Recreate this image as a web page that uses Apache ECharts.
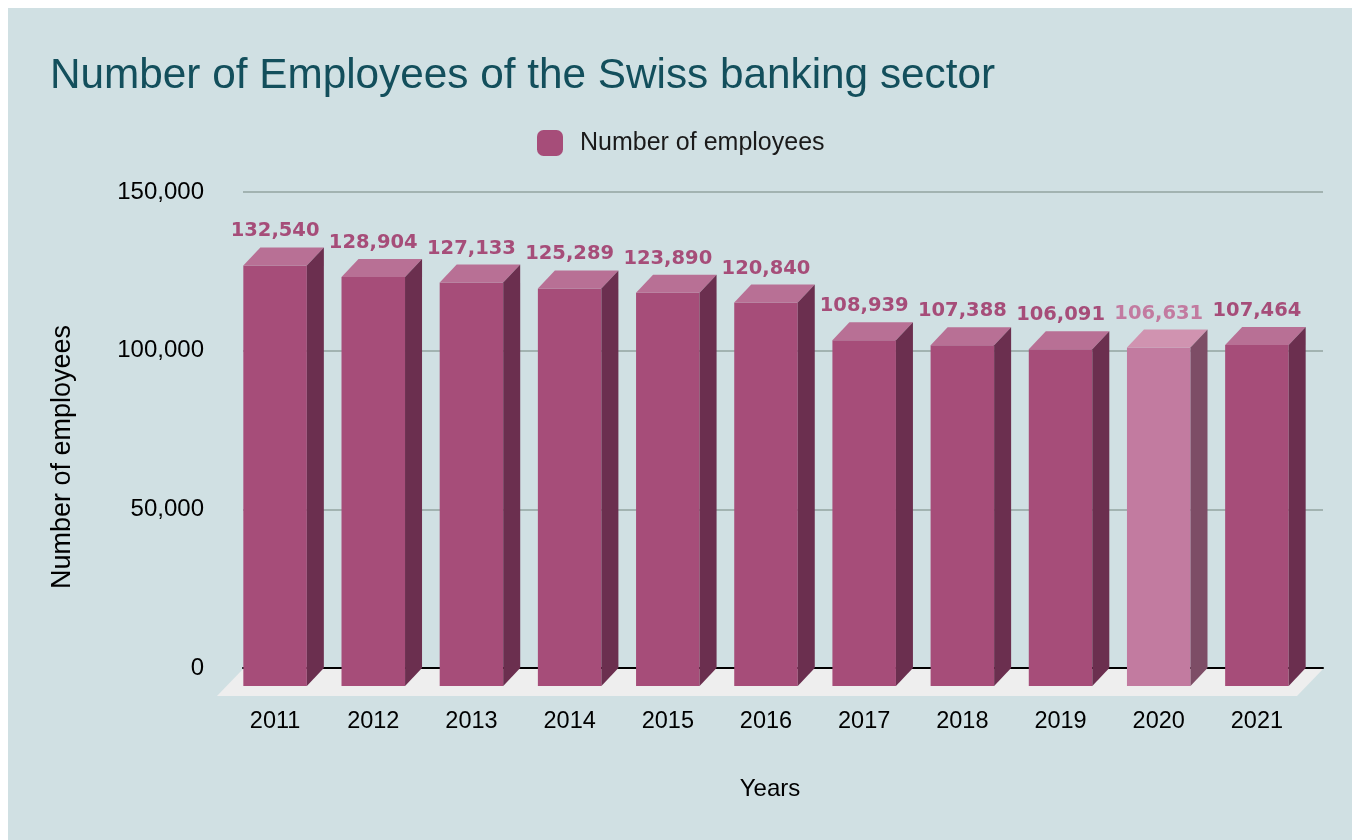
<!DOCTYPE html>
<html>
<head>
<meta charset="utf-8">
<script src="https://cdn.jsdelivr.net/npm/echarts@6/dist/echarts.min.js"></script>
<style>
html,body{margin:0;padding:0;background:#fff;}
#c{width:1352px;height:840px;background:#d0e0e3;box-shadow:inset 8px 8px 0 0 #fff;}
</style>
</head>
<body>
<div id="c"></div>
<script>
const years = ['2011','2012','2013','2014','2015','2016','2017','2018','2019','2020','2021'];
const employees = [132540,128904,127133,125289,123890,120840,108939,107388,106091,106631,107464];
const yMin = 0, yMax = 150000, yStep = 50000;
const highlightYears = ['2020'];
const seriesName = 'Number of employees';

const normalColors = {front:'#a64d79', top:'#b87095', side:'#6b2f4f', label:'#a64d79'};
const hlColors = {front:'#c27ba0', top:'#d093b0', side:'#7d4d66', label:'#c27ba0'};
const DX = -17, DY = 18;

const fmt = v => v.toLocaleString('en-US');

function renderBar(params, api) {
  const i = api.value(0), v = api.value(1);
  const top = api.coord([i, v]);
  const base = api.coord([i, 0]);
  const bw = api.size([1, 0])[0] * 0.647;
  const xl = top[0] - bw / 2 + DX, xr = top[0] + bw / 2 + DX;
  const yt = top[1] + DY, yb = base[1] + DY;
  const c = highlightYears.includes(years[i]) ? hlColors : normalColors;
  return {
    type: 'group',
    children: [
      {type:'rect', shape:{x:xl, y:yt, width:bw, height:yb - yt}, style:{fill:c.front}},
      {type:'polygon', shape:{points:[[xl,yt],[xr,yt],[xr-DX,yt-DY],[xl-DX,yt-DY]]}, style:{fill:c.top}},
      {type:'polygon', shape:{points:[[xr,yt],[xr-DX,yt-DY],[xr-DX,yb-DY],[xr,yb]]}, style:{fill:c.side}},
      {type:'text', x:(xl + xr) / 2, y: top[1] - 6,
       style:{text: fmt(v), fill: c.label, font: 'bold 19.5px "DejaVu Sans"', align:'center', verticalAlign:'bottom'}}
    ]
  };
}

function renderFloor(params, api) {
  const cs = params.coordSys;
  const y0 = api.coord([0, 0])[1] + 1;
  const x0 = cs.x, x1 = cs.x + cs.width;
  const fx = -26, fy = 27;
  return {
    type: 'polygon',
    shape: {points: [[x0, y0], [x1, y0], [x1 + fx, y0 + fy], [x0 + fx, y0 + fy]]},
    style: {fill: '#eeeeee'}
  };
}

const chart = echarts.init(document.getElementById('c'));
chart.setOption({
  animation: false,
  textStyle: {fontFamily: '"Liberation Sans", Arial, sans-serif'},
  title: {
    text: 'Number of Employees of the Swiss banking sector',
    left: 45, top: 50,
    textStyle: {fontSize: 42.3, fontWeight: 'normal', color: '#134f5c', fontFamily: '"Liberation Sans", Arial, sans-serif'}
  },
  legend: {
    data: [seriesName],
    left: 532, top: 125,
    itemWidth: 26, itemHeight: 26,
    icon: 'roundRect',
    textStyle: {fontSize: 25, color: '#1a1a1a', padding: [0, 0, 0, 12]}
  },
  grid: {left: 243, right: 29, top: 192, bottom: 172, containLabel: false},
  xAxis: {
    type: 'category',
    data: years,
    axisLine: {lineStyle: {color: '#000', width: 2}},
    axisTick: {show: false},
    axisLabel: {fontSize: 23.5, color: '#000', margin: 42, padding: [0, 34, 0, 0]},
    name: 'Years', nameLocation: 'middle', nameGap: 109,
    nameTextStyle: {fontSize: 24, color: '#000', padding: [0, 26, 0, 0]}
  },
  yAxis: {
    type: 'value',
    min: yMin, max: yMax, interval: yStep,
    axisLine: {show: false}, axisTick: {show: false},
    axisLabel: {fontSize: 24, color: '#000', margin: 39, formatter: v => fmt(v)},
    splitLine: {lineStyle: {color: '#a2b3b1', width: 2}},
    name: seriesName, nameLocation: 'middle', nameGap: 167,
    nameTextStyle: {fontSize: 27, color: '#000', padding: [0, 54, 0, 0]}
  },
  series: [
    {type: 'custom', name: 'floor', renderItem: renderFloor, data: [[0, 0]], z: 1, silent: true},
    {type: 'custom', name: seriesName, renderItem: renderBar, itemStyle: {color: '#a64d79'},
     data: years.map((y, i) => [i, employees[i]]), z: 2}
  ]
});
</script>
</body>
</html>
